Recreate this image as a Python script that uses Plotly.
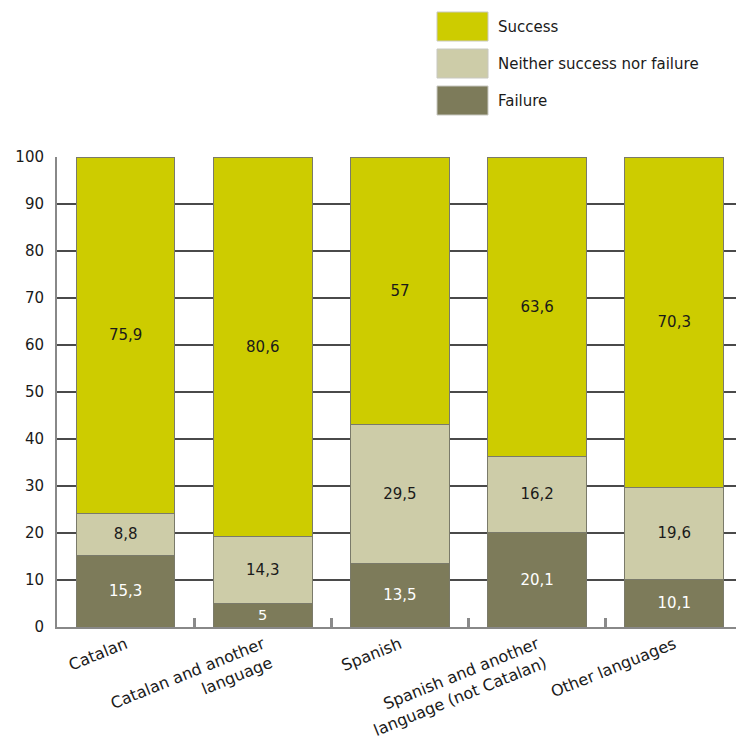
import plotly.graph_objects as go

# Data: share of pupils by language spoken at home (%)
categories = [
    "Catalan",
    "Catalan and another<br>language",
    "Spanish",
    "Spanish and another<br>language (not Catalan)",
    "Other languages",
]
failure = [15.3, 5, 13.5, 20.1, 10.1]
neither = [8.8, 14.3, 29.5, 16.2, 19.6]
success = [75.9, 80.6, 57, 63.6, 70.3]
y_ticks = [0, 10, 20, 30, 40, 50, 60, 70, 80, 90, 100]

series = [
    ("Failure", failure, "#7d7b5a", "white"),
    ("Neither success nor failure", neither, "#cdcca8", "#1a1a1a"),
    ("Success", success, "#cdcc00", "#1a1a1a"),
]

W, H = 736, 747
M_L, M_R, M_T, M_B = 57, 0, 157, 120
FONT = "DejaVu Sans"


def fmt(v):
    s = f"{v:g}"
    return s.replace(".", ",")


fig = go.Figure()
for name, vals, color, tcolor in series:
    fig.add_trace(go.Bar(
        x=categories,
        y=vals,
        name=name,
        width=0.72,
        marker=dict(color=color, line=dict(color="#7a7a6a", width=1)),
        text=[fmt(v) for v in vals],
        textposition="inside",
        insidetextanchor="middle",
        textangle=0,
        textfont=dict(family=FONT, size=15, color=tcolor),
        showlegend=False,
    ))

# Legend drawn as large swatches with labels (top right)
pw = W - M_L - M_R
ph = H - M_T - M_B


def px_x(x):
    return (x - M_L) / pw


def px_y(y):
    return (H - M_B - y) / ph


legend_items = list(reversed(series))
shapes = []
annotations = []
for i, (name, _, color, _) in enumerate(legend_items):
    top = 12 + i * 37
    shapes.append(dict(
        type="rect", xref="paper", yref="paper",
        x0=px_x(437), x1=px_x(488), y0=px_y(top + 29), y1=px_y(top),
        fillcolor=color, line=dict(color="#c8c8c0", width=1),
    ))
    annotations.append(dict(
        xref="paper", yref="paper", x=px_x(496), y=px_y(top + 15),
        text=name, showarrow=False, xanchor="left", yanchor="middle",
        font=dict(family=FONT, size=15, color="#1a1a1a"),
    ))

fig.update_layout(
    barmode="stack",
    width=W, height=H,
    margin=dict(l=M_L, r=M_R, t=M_T, b=M_B),
    plot_bgcolor="white",
    paper_bgcolor="white",
    shapes=shapes,
    annotations=annotations,
    showlegend=False,
    xaxis=dict(
        type="category",
        tickangle=-22,
        range=[-0.5, 4.45],
        showline=True, linecolor="#888888", linewidth=2,
        ticks="inside", tickson="boundaries", ticklen=9,
        tickcolor="#8a8a8a", tickwidth=3,
        showgrid=False,
        tickfont=dict(family=FONT, size=16, color="#1a1a1a"),
    ),
    yaxis=dict(
        range=[0, 100],
        tickmode="array",
        tickvals=y_ticks,
        showgrid=True, gridcolor="#4a4a4a", gridwidth=2,
        zeroline=False,
        showline=True, linecolor="#888888", linewidth=2,
        ticks="", ticklabelstandoff=8,
        tickfont=dict(family=FONT, size=15, color="#1a1a1a"),
    ),
)

fig.write_html("out.html")
